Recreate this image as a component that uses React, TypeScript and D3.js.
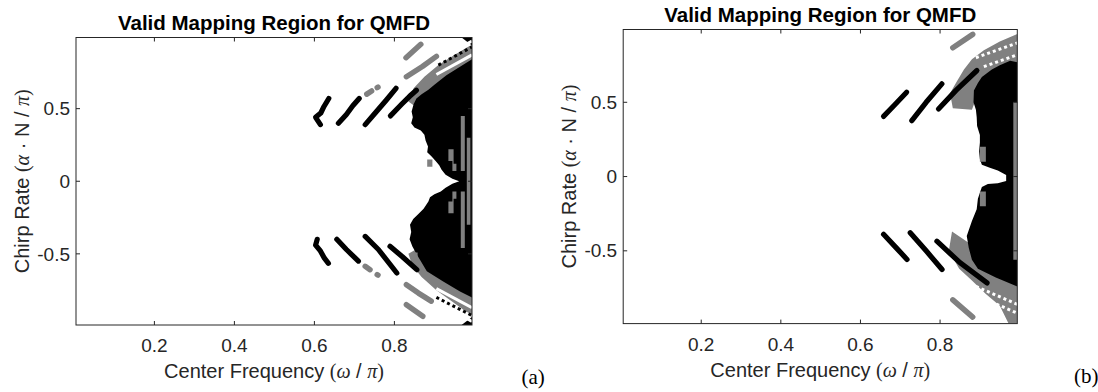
import React from "react";
import * as d3 from "d3";

type Pt = [number, number];

const X_TICKS = [0.2, 0.4, 0.6, 0.8];
const Y_TICKS = [-0.5, 0, 0.5];
const X_LIM: Pt = [0.004, 0.994];
const Y_LIM: Pt = [-0.99, 0.99];
const TITLE = "Valid Mapping Region for QMFD";

// ---- panel (a) ----
const A_GRAY_AREAS: Pt[][] = [
  [[0.835, 0.55], [0.848, 0.64], [0.875, 0.72], [0.91, 0.8], [0.95, 0.87], [0.98, 0.92], [0.994, 0.94], [0.994, 0.7], [0.9, 0.58], [0.86, 0.5]],
  [[0.835, -0.5], [0.845, -0.58], [0.868, -0.66], [0.905, -0.75], [0.945, -0.83], [0.975, -0.89], [0.994, -0.92], [0.994, -0.7], [0.9, -0.56], [0.86, -0.46]],
];
const A_BLACK_AREAS: Pt[][] = [
  [[0.994, 0.84], [0.965, 0.79], [0.93, 0.73], [0.9, 0.665], [0.885, 0.63], [0.868, 0.6], [0.855, 0.57], [0.848, 0.53], [0.843, 0.48], [0.846, 0.44],
   [0.842, 0.4], [0.85, 0.37], [0.866, 0.35], [0.875, 0.32], [0.878, 0.28], [0.884, 0.24], [0.882, 0.2], [0.893, 0.17], [0.903, 0.14],
   [0.912, 0.11], [0.918, 0.08], [0.928, 0.045], [0.945, 0.018], [0.962, 0.0], [0.945, -0.018], [0.928, -0.045], [0.916, -0.07],
   [0.9, -0.09], [0.889, -0.11], [0.885, -0.14], [0.873, -0.19], [0.858, -0.23], [0.847, -0.26], [0.839, -0.3], [0.842, -0.35], [0.838, -0.4],
   [0.845, -0.45], [0.855, -0.5], [0.868, -0.56], [0.881, -0.62], [0.922, -0.69], [0.964, -0.76], [0.994, -0.8]],
  [[0.968, 0.99], [0.994, 0.99], [0.994, 0.935]],
  [[0.968, -0.99], [0.994, -0.99], [0.994, -0.935]],
];
const A_GRAY_PATCHES: Pt[][] = [
  [[0.966, 0.45], [0.976, 0.45], [0.976, 0.07], [0.966, 0.07]],
  [[0.966, -0.07], [0.976, -0.07], [0.976, -0.46], [0.966, -0.46]],
  [[0.981, 0.3], [0.99, 0.3], [0.99, -0.3], [0.981, -0.3]],
  [[0.935, 0.22], [0.948, 0.22], [0.948, 0.12], [0.955, 0.12], [0.955, 0.07], [0.945, 0.07], [0.945, 0.14], [0.935, 0.14]],
  [[0.935, -0.22], [0.948, -0.22], [0.948, -0.12], [0.955, -0.12], [0.955, -0.07], [0.945, -0.07], [0.945, -0.14], [0.935, -0.14]],
  [[0.882, 0.15], [0.895, 0.15], [0.895, 0.1], [0.882, 0.1]],
  [[0.845, -0.49], [0.858, -0.49], [0.858, -0.54], [0.845, -0.54]],
];
const A_STRIPES: Pt[][] = [
  [[0.615, 0.39], [0.603, 0.44], [0.616, 0.47], [0.624, 0.515], [0.636, 0.57]],
  [[0.66, 0.4], [0.68, 0.46], [0.696, 0.52], [0.712, 0.57]],
  [[0.727, 0.39], [0.752, 0.47], [0.78, 0.56], [0.804, 0.64]],
  [[0.79, 0.45], [0.818, 0.53], [0.838, 0.585], [0.855, 0.627]],
  [[0.607, -0.4], [0.603, -0.44], [0.615, -0.48], [0.625, -0.53], [0.635, -0.565]],
  [[0.656, -0.4], [0.68, -0.47], [0.71, -0.55]],
  [[0.727, -0.38], [0.76, -0.47], [0.806, -0.632]],
  [[0.789, -0.448], [0.82, -0.52], [0.856, -0.609]],
];
const A_GRAY_STREAKS: Pt[][] = [
  [[0.731, 0.6], [0.743, 0.622]],
  [[0.757, 0.645], [0.759, 0.648]],
  [[0.83, 0.72], [0.87, 0.79], [0.905, 0.86]],
  [[0.829, 0.851], [0.866, 0.943]],
  [[0.727, -0.586], [0.739, -0.609]],
  [[0.757, -0.643], [0.759, -0.646]],
  [[0.83, -0.712], [0.86, -0.77], [0.892, -0.826]],
  [[0.83, -0.85], [0.871, -0.93]],
];
const A_WHITE_LINES: Pt[][] = [
  [[0.905, 0.735], [0.994, 0.87]],
  [[0.925, 0.86], [0.994, 0.965]],
  [[0.905, -0.74], [0.994, -0.87]],
  [[0.925, -0.86], [0.994, -0.965]],
];
const A_DOT_LINES: Pt[][] = [
  [[0.91, 0.8], [0.994, 0.925]],
  [[0.905, -0.8], [0.994, -0.925]],
];

// ---- panel (b) ----
const B_GRAY_AREAS: Pt[][] = [
  [[0.832, 0.46], [0.825, 0.56], [0.842, 0.64], [0.86, 0.72], [0.88, 0.79], [0.91, 0.85], [0.95, 0.91], [0.994, 0.96], [0.994, 0.74], [0.95, 0.71], [0.91, 0.64], [0.89, 0.52], [0.88, 0.45]],
  [[0.83, -0.37], [0.822, -0.5], [0.848, -0.62], [0.88, -0.7], [0.915, -0.79], [0.95, -0.87], [0.972, -0.99], [0.994, -0.99], [0.994, -0.72], [0.93, -0.64], [0.88, -0.46]],
];
const B_BLACK_AREAS: Pt[][] = [
  [[0.994, 0.77], [0.976, 0.78], [0.95, 0.75], [0.93, 0.72], [0.905, 0.67], [0.895, 0.63], [0.885, 0.58], [0.884, 0.5], [0.89, 0.45],
   [0.892, 0.4], [0.893, 0.34], [0.9, 0.28], [0.9, 0.23], [0.898, 0.17], [0.9, 0.117], [0.905, 0.08], [0.925, 0.06], [0.945, 0.04],
   [0.966, 0.01], [0.966, -0.03], [0.945, -0.045], [0.92, -0.05], [0.905, -0.07], [0.901, -0.1], [0.895, -0.15], [0.892, -0.22], [0.88, -0.3],
   [0.867, -0.4], [0.872, -0.48], [0.88, -0.56], [0.895, -0.62], [0.94, -0.68], [0.994, -0.74]],
];
const B_GRAY_PATCHES: Pt[][] = [
  [[0.984, 0.5], [0.994, 0.5], [0.994, -0.56], [0.984, -0.56]],
  [[0.9, 0.2], [0.915, 0.2], [0.915, 0.1], [0.9, 0.1]],
  [[0.9, -0.1], [0.915, -0.1], [0.915, -0.2], [0.9, -0.2]],
];
const B_STRIPES: Pt[][] = [
  [[0.658, 0.405], [0.685, 0.48], [0.716, 0.568]],
  [[0.729, 0.376], [0.765, 0.5], [0.8045, 0.624]],
  [[0.796, 0.455], [0.84, 0.58], [0.8925, 0.714]],
  [[0.658, -0.389], [0.69, -0.48], [0.717, -0.558]],
  [[0.725, -0.378], [0.765, -0.5], [0.805, -0.626]],
  [[0.792, -0.435], [0.85, -0.58], [0.918, -0.716]],
];
const B_GRAY_STREAKS: Pt[][] = [
  [[0.832, 0.867], [0.882, 0.957]],
  [[0.832, -0.83], [0.882, -0.946]],
];
const B_WHITE_LINES: Pt[][] = [];
const B_DOT_LINES: Pt[][] = [
  [[0.89, 0.8], [0.994, 0.9]],
  [[0.91, 0.74], [0.994, 0.82]],
  [[0.89, -0.74], [0.994, -0.86]],
  [[0.9, -0.81], [0.994, -0.92]],
];

type PanelData = {
  grayAreas: Pt[][];
  blackAreas: Pt[][];
  grayPatches: Pt[][];
  stripes: Pt[][];
  grayStreaks: Pt[][];
  whiteLines: Pt[][];
  dotLines: Pt[][];
  dotColor: string;
};

const SANS = "'Liberation Sans', Arial, Helvetica, sans-serif";
const SERIF = "'Liberation Serif', 'Times New Roman', serif";
const AX = "#262626";

function Panel({ id, left, right, top, bottom, data, tag, tagX }: {
  id: string; left: number; right: number; top: number; bottom: number;
  data: PanelData; tag: string; tagX: number;
}) {
  const x = d3.scaleLinear().domain(X_LIM).range([left, right]);
  const y = d3.scaleLinear().domain(Y_LIM).range([bottom, top]);
  const line = d3.line<Pt>().x(d => x(d[0])).y(d => y(d[1]));
  const area = (p: Pt[]) => line(p) + "Z";
  const cx = (left + right) / 2;
  const cy = (top + bottom) / 2;

  return (
    <g>
      <defs>
        <clipPath id={id}>
          <rect x={left} y={top} width={right - left} height={bottom - top} />
        </clipPath>
      </defs>
      <g clipPath={`url(#${id})`}>
        {data.grayAreas.map((p, i) => <path key={"ga" + i} d={area(p)} fill="#808080" />)}
        {data.blackAreas.map((p, i) => <path key={"ba" + i} d={area(p)} fill="#000" />)}
        {data.grayPatches.map((p, i) => <path key={"gp" + i} d={area(p)} fill="#808080" />)}
        {data.whiteLines.map((p, i) => <path key={"wl" + i} d={line(p)!} fill="none" stroke="#fff" strokeWidth={3} />)}
        {data.dotLines.map((p, i) => <path key={"dl" + i} d={line(p)!} fill="none" stroke={data.dotColor} strokeWidth={3} strokeDasharray="3 3" />)}
        {data.grayStreaks.map((p, i) => <path key={"gs" + i} d={line(p)!} fill="none" stroke="#808080" strokeWidth={5.5} strokeLinecap="round" strokeLinejoin="round" />)}
        {data.stripes.map((p, i) => <path key={"st" + i} d={line(p)!} fill="none" stroke="#000" strokeWidth={5.2} strokeLinecap="round" strokeLinejoin="round" />)}
      </g>
      <rect x={left} y={top} width={right - left} height={bottom - top} fill="none" stroke={AX} strokeWidth={1} />
      {X_TICKS.map(t => (
        <g key={"xt" + t}>
          <line x1={x(t)} x2={x(t)} y1={bottom} y2={bottom - 4} stroke={AX} />
          <line x1={x(t)} x2={x(t)} y1={top} y2={top + 4} stroke={AX} />
          <text x={x(t)} y={bottom + 27} textAnchor="middle" fontFamily={SANS} fontSize={19} fill={AX}>{t.toFixed(1)}</text>
        </g>
      ))}
      {Y_TICKS.map(t => (
        <g key={"yt" + t}>
          <line x1={left} x2={left + 4} y1={y(t)} y2={y(t)} stroke={AX} />
          <line x1={right} x2={right - 4} y1={y(t)} y2={y(t)} stroke={AX} />
          <text x={left - 6} y={y(t)} dy="0.35em" textAnchor="end" fontFamily={SANS} fontSize={19} fill={AX}>{t === 0 ? "0" : t.toFixed(1)}</text>
        </g>
      ))}
      <text x={cx} y={top - 8} textAnchor="middle" fontFamily={SANS} fontSize={20.5} fontWeight="bold" fill="#000">{TITLE}</text>
      <text x={cx} y={bottom + 53} textAnchor="middle" fontFamily={SANS} fontSize={20} fill={AX}>
        Center Frequency <tspan fontFamily={SERIF}>(</tspan><tspan fontFamily={SERIF} fontStyle="italic">ω</tspan> / <tspan fontFamily={SERIF} fontStyle="italic">π</tspan><tspan fontFamily={SERIF}>)</tspan>
      </text>
      <text transform={`translate(${left - 47.5},${cy}) rotate(-90)`} textAnchor="middle" fontFamily={SANS} fontSize={20} fill={AX}>
        Chirp Rate <tspan fontFamily={SERIF}>(</tspan><tspan fontFamily={SERIF} fontStyle="italic">α</tspan> · N / <tspan fontFamily={SERIF} fontStyle="italic">π</tspan><tspan fontFamily={SERIF}>)</tspan>
      </text>
      <text x={tagX} y={bottom + 59} fontFamily={SERIF} fontSize={21} fill="#000">{tag}</text>
    </g>
  );
}

export default function App() {
  const a: PanelData = {
    grayAreas: A_GRAY_AREAS, blackAreas: A_BLACK_AREAS, grayPatches: A_GRAY_PATCHES,
    stripes: A_STRIPES, grayStreaks: A_GRAY_STREAKS, whiteLines: A_WHITE_LINES, dotLines: A_DOT_LINES, dotColor: "#000",
  };
  const b: PanelData = {
    grayAreas: B_GRAY_AREAS, blackAreas: B_BLACK_AREAS, grayPatches: B_GRAY_PATCHES,
    stripes: B_STRIPES, grayStreaks: B_GRAY_STREAKS, whiteLines: B_WHITE_LINES, dotLines: B_DOT_LINES, dotColor: "#fff",
  };
  return (
    <svg width={1098} height={392} style={{ position: "absolute", left: 0, top: 0, background: "#fff" }}>
      <Panel id="clipA" left={76} right={472} top={37.5} bottom={325} data={a} tag="(a)" tagX={521.5} />
      <Panel id="clipB" left={623.2} right={1017.3} top={29.5} bottom={323.6} data={b} tag="(b)" tagX={1074} />
    </svg>
  );
}
